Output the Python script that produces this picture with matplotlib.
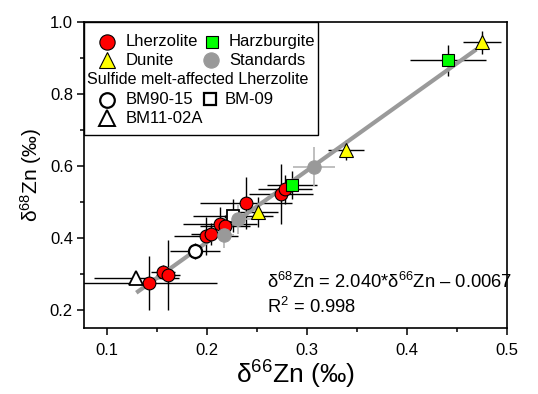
import matplotlib
matplotlib.use("Agg")
import matplotlib.pyplot as plt
import matplotlib.transforms as mtransforms
from matplotlib.patches import Rectangle
from matplotlib.ticker import MultipleLocator

plt.rcParams['font.family'] = ['Liberation Sans', 'DejaVu Sans']
plt.rcParams['mathtext.fontset'] = 'custom'
plt.rcParams['mathtext.rm'] = 'Liberation Sans'
plt.rcParams['mathtext.it'] = 'Liberation Sans:italic'
plt.rcParams['mathtext.bf'] = 'Liberation Sans:bold'

# ---------------- data ----------------
lherz_x = [0.142, 0.156, 0.161, 0.199, 0.204, 0.213, 0.218, 0.239, 0.274, 0.278]
lherz_y = [0.274, 0.306, 0.297, 0.405, 0.411, 0.440, 0.433, 0.498, 0.521, 0.535]
lherz_xerr = [0.068, 0.012, 0.012, 0.032, 0.020, 0.037, 0.025, 0.046, 0.032, 0.027]
lherz_yerr = [0.075, 0.020, 0.098, 0.053, 0.030, 0.045, 0.030, 0.072, 0.083, 0.040]

harz_x = [0.285, 0.441]
harz_y = [0.547, 0.893]
harz_xerr = [0.025, 0.038]
harz_yerr = [0.040, 0.043]

dun_x = [0.251, 0.339, 0.475]
dun_y = [0.471, 0.644, 0.943]
dun_xerr = [0.020, 0.018, 0.019]
dun_yerr = [0.042, 0.028, 0.032]

std_x = [0.217, 0.231, 0.307]
std_y = [0.408, 0.452, 0.598]
std_xerr = [0.010, 0.020, 0.021]
std_yerr = [0.035, 0.040, 0.055]

bm9015_x, bm9015_y, bm9015_xerr, bm9015_yerr = [0.188], [0.364], [0.025], [0.022]
bm09_x, bm09_y, bm09_xerr, bm09_yerr = [0.226], [0.462], [0.040], [0.045]
bm1102_x, bm1102_y, bm1102_xerr, bm1102_yerr = [0.129], [0.288], [0.0425], [0.015]

fit_x = [0.129, 0.469]
fit_y = [0.248, 0.923]

x_ticks = [0.1, 0.2, 0.3, 0.4, 0.5]
y_ticks = [0.2, 0.4, 0.6, 0.8, 1.0]
x_ticklabels = ['0.1', '0.2', '0.3', '0.4', '0.5']
y_ticklabels = ['0.2', '0.4', '0.6', '0.8', '1.0']

# ---------------- figure ----------------
W, H = 538, 394
fig = plt.figure(figsize=(W / 100, H / 100), dpi=100)
ax = fig.add_axes([84 / W, 1 - 327.5 / H, 423.3 / W, 305.8 / H])
ax.set_xlim(0.0767, 0.5)
ax.set_ylim(0.1515, 1.0)

# error bars
eb = dict(fmt='none', ecolor='black', elinewidth=1.0, capsize=0, zorder=1)
ax.errorbar(lherz_x, lherz_y, xerr=lherz_xerr, yerr=lherz_yerr, **eb)
ax.errorbar(harz_x, harz_y, xerr=harz_xerr, yerr=harz_yerr, **eb)
ax.errorbar(dun_x, dun_y, xerr=dun_xerr, yerr=dun_yerr, **eb)
ax.errorbar(bm9015_x, bm9015_y, xerr=bm9015_xerr, yerr=bm9015_yerr, **eb)
ax.errorbar(bm09_x, bm09_y, xerr=bm09_xerr, yerr=bm09_yerr, **eb)
ax.errorbar(bm1102_x, bm1102_y, xerr=bm1102_xerr, yerr=bm1102_yerr, **eb)
ax.errorbar(std_x, std_y, xerr=std_xerr, yerr=std_yerr, fmt='none',
            ecolor='#b4b4b4', elinewidth=1.2, capsize=0, zorder=1.5)

# regression line
ax.plot(fit_x, fit_y, color='#9a9a9a', lw=3, solid_capstyle='butt', zorder=2)

# markers
ax.plot(bm09_x, bm09_y, 's', ms=9, mfc='white', mec='black', mew=1.3, zorder=3)
ax.plot(lherz_x, lherz_y, 'o', ms=9.2, mfc='#ff0000', mec='black', mew=0.8, zorder=3)
ax.plot(harz_x, harz_y, 's', ms=8.6, mfc='#00ff00', mec='black', mew=0.8, zorder=3)
ax.plot(dun_x, dun_y, '^', ms=10.5, mfc='#ffff00', mec='black', mew=0.8, zorder=3)
ax.plot(std_x, std_y, 'o', ms=9.6, mfc='#999999', mec='#999999', mew=0.8, zorder=3.5)
ax.plot(bm9015_x, bm9015_y, 'o', ms=9.4, mfc='white', mec='black', mew=1.6, zorder=3)
ax.plot(bm1102_x, bm1102_y, '^', ms=10.5, mfc='white', mec='black', mew=1.3, zorder=3)

# axes styling
for s in ax.spines.values():
    s.set_linewidth(1.2)
ax.set_xticks(x_ticks)
ax.set_xticklabels(x_ticklabels)
ax.set_yticks(y_ticks)
ax.set_yticklabels(y_ticklabels)
ax.xaxis.set_minor_locator(MultipleLocator(0.05))
ax.yaxis.set_minor_locator(MultipleLocator(0.1))
ax.tick_params(which='major', direction='out', length=5, width=1.1, labelsize=12)
ax.tick_params(which='minor', direction='out', length=3, width=1.1)
ax.tick_params(axis='x', which='major', pad=6)
ax.tick_params(axis='y', which='major', pad=3)

ax.set_xlabel('δ$^{66}$Zn (‰)', fontsize=19, labelpad=1)
ax.set_ylabel('δ$^{68}$Zn (‰)', fontsize=15, labelpad=4)

# ---------------- legend (drawn manually) ----------------
pix = mtransforms.Affine2D().scale(1 / W, -1 / H).translate(0, 1) + fig.transFigure
fig.patches.append(Rectangle((84, 21.7), 233.7, 113.3, transform=pix, fill=True,
                             facecolor='white', edgecolor='black', lw=1.0, zorder=5))

def leg_marker(px, py, **kw):
    fig.lines.append(plt.Line2D([px], [py], transform=pix, zorder=6, **kw))

def leg_text(px, py, s, fs=12):
    fig.text(px, py, s, transform=pix, fontsize=fs, ha='left', va='center', zorder=6)

leg_marker(107.3, 41.7, marker='o', ms=11, mfc='#ff0000', mec='black', mew=0.8)
leg_text(126, 41.7, 'Lherzolite')
leg_marker(211.5, 41.7, marker='s', ms=9, mfc='#00ff00', mec='black', mew=0.8)
leg_text(229, 41.7, 'Harzburgite')
leg_marker(107.3, 60.3, marker='^', ms=12, mfc='#ffff00', mec='black', mew=0.8)
leg_text(126, 60.3, 'Dunite')
leg_marker(210.5, 60.5, marker='o', ms=11, mfc='#999999', mec='#999999', mew=0.8)
leg_text(229, 60.3, 'Standards')
leg_text(87, 80, 'Sulfide melt-affected Lherzolite', fs=11.6)
leg_marker(107.3, 100, marker='o', ms=10.5, mfc='white', mec='black', mew=1.6)
leg_text(126, 100, 'BM90-15')
leg_marker(210, 99.5, marker='s', ms=8.3, mfc='white', mec='black', mew=1.6)
leg_text(225, 100, 'BM-09')
leg_marker(107.3, 118.3, marker='^', ms=12, mfc='white', mec='black', mew=1.4)
leg_text(126, 118.3, 'BM11-02A')

# ---------------- annotation ----------------
fig.text(267, 282, 'δ$^{68}$Zn = 2.040*δ$^{66}$Zn – 0.0067', transform=pix,
         fontsize=13.2, ha='left', va='center')
fig.text(267, 307, 'R$^{2}$ = 0.998', transform=pix,
         fontsize=13.2, ha='left', va='center')

fig.savefig('out.png', dpi=100)
